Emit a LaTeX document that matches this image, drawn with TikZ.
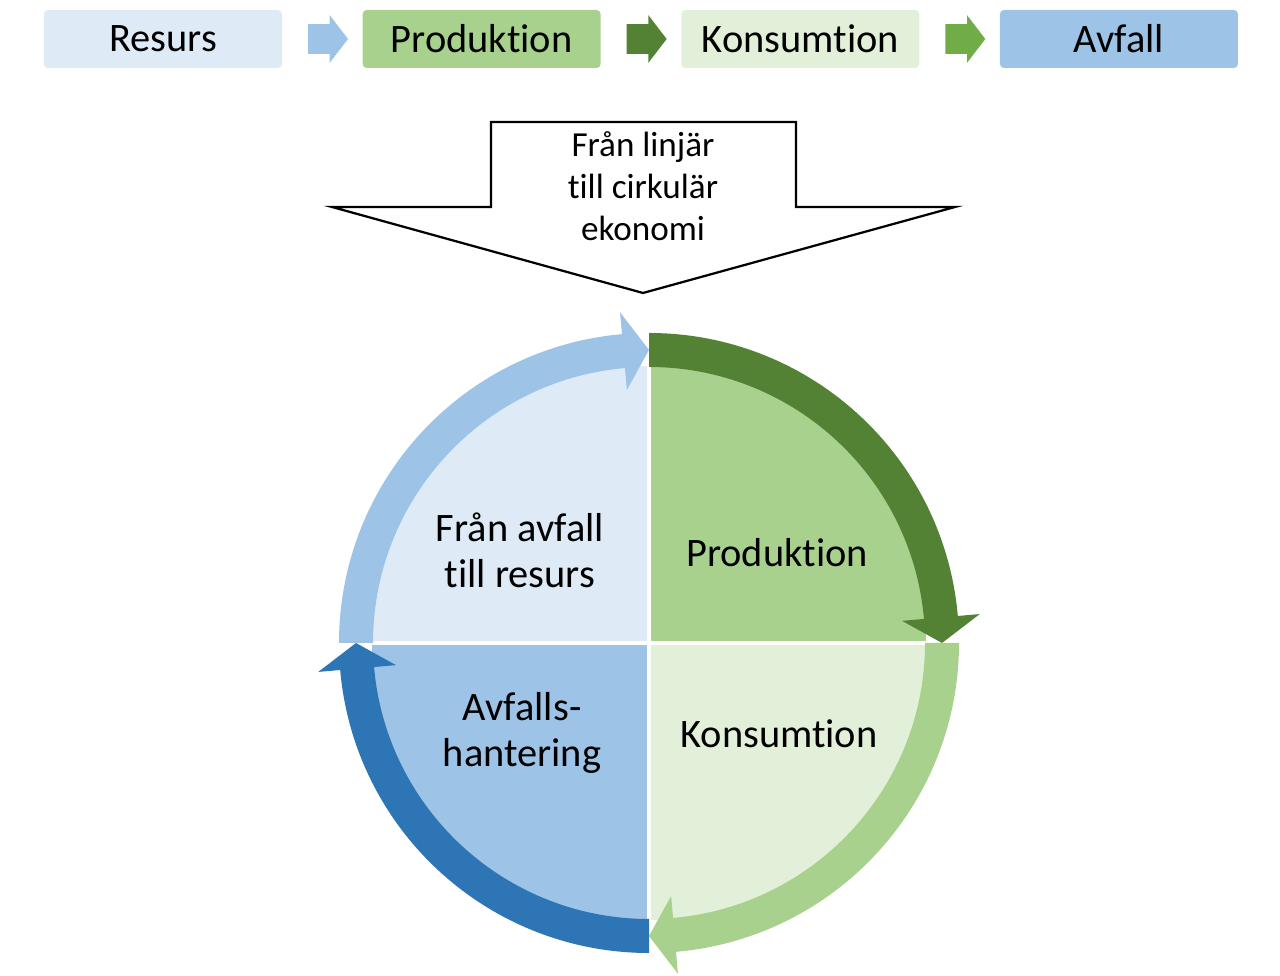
\documentclass[tikz,border=0pt]{standalone}
\usepackage{fontspec}
\setmainfont{Carlito}[Ligatures=NoCommon]
\usetikzlibrary{positioning}
\usetikzlibrary{shapes.arrows}
\usetikzlibrary{calc}
\usepackage{xcolor}

\definecolor{paleblue}{HTML}{DEEBF7}
\definecolor{midblue}{HTML}{9DC3E6}
\definecolor{deepblue}{HTML}{2E75B6}
\definecolor{palegreen}{HTML}{E2F0D9}
\definecolor{midgreen}{HTML}{A9D18E}
\definecolor{deepgreen}{HTML}{548235}
\definecolor{brightgreen}{HTML}{70AD47}

\begin{document}
\begin{tikzpicture}[x=0.02cm, y=0.02cm,
        box/.style={rounded corners=0.08cm, minimum width=4.76cm, minimum height=1.16cm, inner sep=0, font=\fontsize{23}{25.5}\selectfont},
        flow/.style={single arrow, minimum height=0.8cm, single arrow head extend=0.18cm, single arrow tip angle=105, inner xsep=0, inner ysep=0.29cm},
        lbl/.style={align=center, font=\fontsize{23}{26}\selectfont}]
        \useasboundingbox (0,0) rectangle (1280,976);

        \node[box, fill=paleblue] (resurs) at (163, 937) {Resurs};
        \node[box, fill=midgreen, right=1.6cm of resurs] (prod) {Produktion};
        \node[box, fill=palegreen, right=1.6cm of prod] (kons) {Konsumtion};
        \node[box, fill=midblue, right=1.6cm of kons] (avfall) {Avfall};

        \node[flow, fill=midblue] (f1) at ($(resurs.east)!0.5!(prod.west)$) {};
        \node[flow, fill=deepgreen] (f2) at ($(prod.east)!0.5!(kons.west)$) {};
        \node[flow, fill=brightgreen] (f3) at ($(kons.east)!0.5!(avfall.west)$) {};

        \draw[line width=0.045cm, fill=white] (491,854) -- (796,854) -- (796,769) -- (955,769)
            -- (643,683) -- (332,769) -- (491,769) -- cycle;
        \node[align=center, font=\fontsize{20}{23.8}\selectfont] (shift) at (643, 790) {Från linjär\\till cirkulär\\ekonomi};

        \coordinate (C) at (649, 333);
        \fill[paleblue] (C) -- ++(180:277) arc[start angle=180, end angle=90, radius=277] -- cycle;
        \fill[midgreen] (C) -- ++(90:277) arc[start angle=90, end angle=0, radius=277] -- cycle;
        \fill[palegreen] (C) -- ++(0:277) arc[start angle=0, end angle=-90, radius=277] -- cycle;
        \fill[midblue] (C) -- ++(-90:277) arc[start angle=-90, end angle=-180, radius=277] -- cycle;
        \draw[white, line width=0.08cm] ($(C)+(-277,0)$) -- ($(C)+(277,0)$);
        \draw[white, line width=0.08cm] ($(C)+(0,-277)$) -- ($(C)+(0,277)$);

        \begin{scope}[shift={(C)}]
            \fill[deepgreen] (90:310) arc[start angle=90, end angle=5, radius=310] -- (5:332) -- (0:293)
                -- (5:254) -- (5:276) arc[start angle=5, end angle=90, radius=276] -- cycle;
            \fill[midgreen] (0:310) arc[start angle=0, end angle=-85, radius=310] -- (-85:332) -- (-90:293)
                -- (-85:254) -- (-85:276) arc[start angle=-85, end angle=0, radius=276] -- cycle;
            \fill[deepblue] (270:310) arc[start angle=270, end angle=185, radius=310] -- (185:332) -- (180:293)
                -- (185:254) -- (185:276) arc[start angle=185, end angle=270, radius=276] -- cycle;
            \fill[midblue] (180:310) arc[start angle=180, end angle=95, radius=310] -- (95:332) -- (90:293)
                -- (95:254) -- (95:276) arc[start angle=95, end angle=180, radius=276] -- cycle;
        \end{scope}

        \node[lbl] (reuse) at (520, 426) {Från avfall\\till resurs};
        \node[lbl] (prodq) at (777, 423) {Produktion};
        \node[lbl] (konsq) at (779, 242) {Konsumtion};
        \node[lbl] (avfq) at (522, 243) {Avfalls-\\hantering};
    \end{tikzpicture}
\end{document}
